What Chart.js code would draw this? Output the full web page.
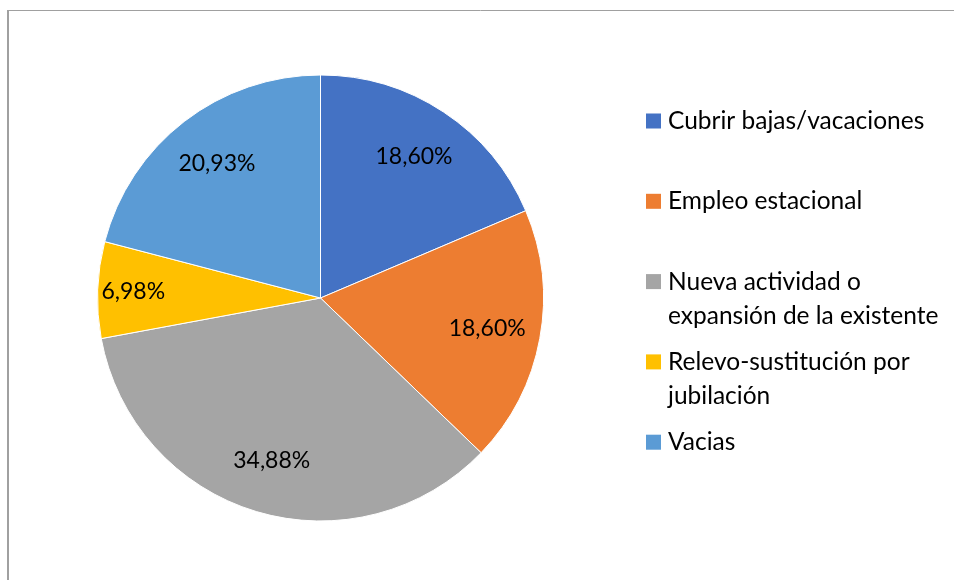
<!DOCTYPE html>
<html>
<head>
<meta charset="utf-8">
<script src="https://cdn.jsdelivr.net/npm/chart.js@4.4.0/dist/chart.umd.min.js"></script>
<style>
html,body{margin:0;padding:0;background:#fff;}
#wrap{width:954px;height:580px;position:relative;}
</style>
</head>
<body>
<div id="wrap"><canvas id="c" width="954" height="580"></canvas></div>
<script>
const categories = [['Cubrir bajas/vacaciones'], ['Empleo estacional'], ['Nueva actividad o', 'expansión de la existente'], ['Relevo-sustitución por', 'jubilación'], ['Vacias']];
const percentValues = [18.60, 18.60, 34.88, 6.98, 20.93];
const sliceColors = ['#4472C4', '#ED7D31', '#A5A5A5', '#FFC000', '#5B9BD5'];

const FONT = 'Lato, "Open Sans", sans-serif';
const LABEL_SIZE = 23;
const LEGEND_SIZE = 24.5;

function fmt(v){ return v.toFixed(2).replace('.', ',') + '%'; }

const framePlugin = {
  id: 'frame',
  beforeDraw(chart){
    const ctx = chart.ctx;
    ctx.save();
    ctx.fillStyle = '#fff';
    ctx.fillRect(0,0,chart.width,chart.height);
    ctx.strokeStyle = '#a0a0a0';
    ctx.lineWidth = 1;
    ctx.beginPath();
    ctx.moveTo(7, 10.5); ctx.lineTo(chart.width, 10.5);
    ctx.stroke();
    ctx.lineWidth = 2;
    ctx.beginPath();
    ctx.moveTo(8, 10); ctx.lineTo(8, chart.height);
    ctx.stroke();
    ctx.restore();
  }
};

const labelPlugin = {
  id: 'sliceLabels',
  afterDatasetsDraw(chart){
    const ctx = chart.ctx;
    const meta = chart.getDatasetMeta(0);
    ctx.save();
    ctx.font = LABEL_SIZE + 'px ' + FONT;
    ctx.fillStyle = '#000';
    ctx.textAlign = 'center';
    ctx.textBaseline = 'middle';
    meta.data.forEach((arc, i) => {
      const v = chart.data.datasets[0].data[i];
      const mid = (arc.startAngle + arc.endAngle) / 2;
      const f = v < 10 ? 0.84 : 0.76;
      const r = arc.outerRadius * f;
      ctx.fillText(fmt(v), arc.x + Math.cos(mid) * r, arc.y + Math.sin(mid) * r);
    });
    ctx.restore();
  }
};

const legendPlugin = {
  id: 'sideLegend',
  afterDraw(chart){
    const ctx = chart.ctx;
    ctx.save();
    ctx.font = LEGEND_SIZE + 'px ' + FONT;
    ctx.textAlign = 'left';
    ctx.textBaseline = 'middle';
    const boxX = 646, textX = 668, lineH = 34, startY = 121, step = 80.3;
    chart.data.labels.forEach((lines, i) => {
      const y = startY + i * step;
      ctx.fillStyle = chart.data.datasets[0].backgroundColor[i];
      ctx.fillRect(boxX, y - 7.5, 15, 15);
      ctx.fillStyle = '#000';
      lines.forEach((ln, k) => ctx.fillText(ln, textX, y + k * lineH));
    });
    ctx.restore();
  }
};

new Chart(document.getElementById('c'), {
  type: 'pie',
  data: {
    labels: categories,
    datasets: [{
      data: percentValues,
      backgroundColor: sliceColors,
      borderColor: '#ffffff',
      borderWidth: 1
    }]
  },
  options: {
    responsive: false,
    animation: false,
    layout: { padding: { left: 97, right: 410, top: 74, bottom: 58 } },
    plugins: { legend: { display: false }, tooltip: { enabled: false } }
  },
  plugins: [framePlugin, labelPlugin, legendPlugin]
});
</script>
</body>
</html>
